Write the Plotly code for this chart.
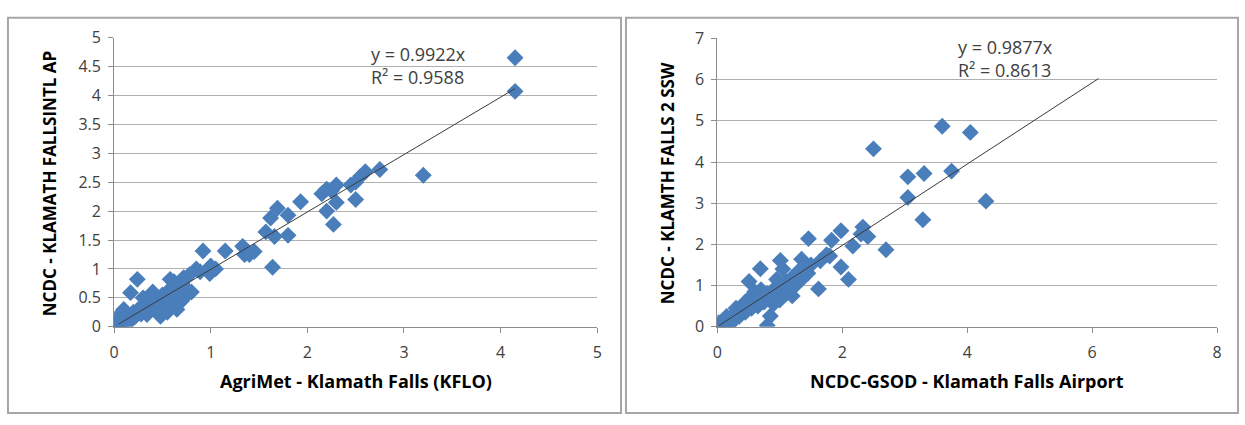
import plotly.graph_objects as go

# ---------------- data ----------------
left_x = [0.0, 0.02, 0.03, 0.05, 0.0, 0.08, 0.1, 0.12, 0.05, 0.15, 0.18, 0.2, 0.1, 0.22, 0.25, 0.28,
          0.3, 0.32, 0.35, 0.38, 0.4, 0.42, 0.45, 0.48, 0.5, 0.52, 0.55, 0.58, 0.6, 0.62, 0.65, 0.68,
          0.7, 0.72, 0.24, 0.17, 0.58, 0.62, 0.48, 0.34, 0.55, 0.6, 0.7, 0.75, 0.8, 0.78, 0.85, 0.89,
          0.99, 0.92, 1.0, 1.05, 1.15, 1.33, 1.35, 1.4, 1.45, 1.57, 1.66, 1.64, 1.8, 1.62, 1.69, 1.8,
          1.93, 2.2, 2.15, 2.2, 2.25, 2.3, 2.3, 2.27, 2.45, 2.5, 2.55, 2.6, 2.5, 2.75, 3.2, 4.15, 4.15,
          0.3, 0.65, 0.72, 0.4]
left_y = [0.0, 0.05, 0.0, 0.1, 0.08, 0.03, 0.15, 0.08, 0.2, 0.2, 0.12, 0.25, 0.3, 0.18, 0.3, 0.22,
          0.35, 0.28, 0.4, 0.3, 0.45, 0.35, 0.5, 0.42, 0.55, 0.48, 0.6, 0.52, 0.65, 0.55, 0.7, 0.6,
          0.75, 0.5, 0.82, 0.59, 0.82, 0.78, 0.18, 0.21, 0.25, 0.35, 0.45, 0.65, 0.6, 0.9, 1.0, 0.95,
          0.92, 1.31, 1.05, 1.0, 1.31, 1.39, 1.25, 1.25, 1.3, 1.64, 1.56, 1.03, 1.58, 1.88, 2.05, 1.93,
          2.16, 2.0, 2.3, 2.38, 2.35, 2.45, 2.15, 1.77, 2.45, 2.5, 2.6, 2.68, 2.2, 2.72, 2.62, 4.07, 4.65,
          0.5, 0.3, 0.85, 0.6]

right_x = [0.0, 0.05, 0.1, 0.02, 0.1, 0.15, 0.2, 0.15, 0.25, 0.3, 0.2, 0.35, 0.4, 0.3, 0.45, 0.5,
           0.45, 0.55, 0.6, 0.55, 0.65, 0.7, 0.6, 0.75, 0.8, 0.7, 0.85, 0.9, 0.95, 1.0, 0.95, 1.05,
           1.1, 1.0, 1.15, 1.2, 1.25, 1.3, 1.35, 1.4, 1.45, 1.5, 1.2, 0.9, 0.69, 1.01, 0.51, 1.35,
           1.62, 0.8, 0.85, 1.05, 1.1, 1.46, 1.83, 1.75, 1.65, 1.8, 1.98, 2.33, 2.41, 2.3, 2.17, 2.7,
           1.98, 2.1, 2.5, 3.05, 3.31, 3.05, 3.29, 3.6, 4.05, 3.75, 4.3]
right_y = [0.0, 0.05, 0.0, 0.1, 0.15, 0.1, 0.2, 0.25, 0.15, 0.3, 0.05, 0.25, 0.4, 0.45, 0.35, 0.5,
           0.6, 0.45, 0.6, 0.75, 0.5, 0.7, 0.85, 0.6, 0.8, 0.9, 0.7, 0.9, 0.75, 1.0, 1.15, 0.85,
           1.1, 0.65, 0.9, 1.2, 1.0, 1.35, 1.15, 1.45, 1.3, 1.5, 0.75, 0.55, 1.41, 1.61, 1.1, 1.64,
           0.92, 0.03, 0.26, 1.4, 0.8, 2.14, 2.1, 1.75, 1.6, 1.72, 2.33, 2.42, 2.19, 2.25, 1.96, 1.87,
           1.45, 1.15, 4.32, 3.64, 3.72, 3.14, 2.6, 4.87, 4.72, 3.78, 3.05]

left_slope, left_r2 = 0.9922, 0.9588
right_slope, right_r2 = 0.9877, 0.8613
left_trend_x = [0.05, 4.15]
right_trend_x = [0.03, 6.1]

left_xticks = [0, 1, 2, 3, 4, 5]
left_yticks = [0, 0.5, 1, 1.5, 2, 2.5, 3, 3.5, 4, 4.5, 5]
right_xticks = [0, 2, 4, 6, 8]
right_yticks = [0, 1, 2, 3, 4, 5, 6, 7]

left_xtitle = "AgriMet - Klamath Falls (KFLO)"
left_ytitle = "NCDC - KLAMATH FALLSINTL AP"
right_xtitle = "NCDC-GSOD - Klamath Falls Airport"
right_ytitle = "NCDC - KLAMTH FALLS 2 SSW"

# ---------------- figure ----------------
W, H = 1245, 425
BLUE = "#4A7EBB"
FONT = "Open Sans"
TXT = "#404040"

fig = go.Figure()

def px_x(p):
    return p / W

def px_y(p):
    return 1 - p / H

fig.add_trace(go.Scatter(x=left_x, y=left_y, mode="markers", xaxis="x", yaxis="y",
                         marker=dict(symbol="diamond", size=13, color=BLUE, line=dict(width=0)),
                         showlegend=False))
fig.add_trace(go.Scatter(x=left_trend_x, y=[left_slope * v for v in left_trend_x], mode="lines",
                         xaxis="x", yaxis="y", line=dict(color="#3a3a3a", width=1), showlegend=False))
fig.add_trace(go.Scatter(x=right_x, y=right_y, mode="markers", xaxis="x2", yaxis="y2",
                         marker=dict(symbol="diamond", size=13, color=BLUE, line=dict(width=0)),
                         showlegend=False))
fig.add_trace(go.Scatter(x=right_trend_x, y=[right_slope * v for v in right_trend_x], mode="lines",
                         xaxis="x2", yaxis="y2", line=dict(color="#3a3a3a", width=1), showlegend=False))

axis_common = dict(showline=True, linecolor="#8c8c8c", linewidth=1, ticks="outside", ticklen=5,
                   tickcolor="#8c8c8c", tickfont=dict(family=FONT, size=16, color=TXT), zeroline=False)

fig.update_layout(
    width=W, height=H, margin=dict(l=0, r=0, t=0, b=0),
    paper_bgcolor="white", plot_bgcolor="white",
    xaxis=dict(domain=[px_x(110), px_x(597)], range=[0, 5], tickvals=left_xticks, showgrid=False,
               anchor="y", ticklabelstandoff=6, **axis_common),
    yaxis=dict(domain=[px_y(333), px_y(28)], range=[0, 5], tickvals=left_yticks, showgrid=True,
               gridcolor="#b0b0b0", gridwidth=1, anchor="x", ticklabelstandoff=4, **axis_common),
    xaxis2=dict(domain=[px_x(718), px_x(1222)], range=[0, 8], tickvals=right_xticks, showgrid=False,
                anchor="y2", ticklabelstandoff=6, **axis_common),
    yaxis2=dict(domain=[px_y(333), px_y(29)], range=[0, 7], tickvals=right_yticks, showgrid=True,
                gridcolor="#b0b0b0", gridwidth=1, anchor="x2", ticklabelstandoff=4, **axis_common),
)

shapes = [
    dict(type="rect", xref="paper", yref="paper", x0=px_x(3), x1=px_x(621), y0=px_y(424), y1=px_y(7),
         line=dict(color="#a6a6a6", width=2)),
    dict(type="rect", xref="paper", yref="paper", x0=px_x(626), x1=px_x(1243), y0=px_y(424), y1=px_y(7),
         line=dict(color="#a6a6a6", width=2)),
]
fig.update_layout(shapes=shapes)

ann = []
def text(x, y, s, size=15, bold=False, angle=0, xanchor="center"):
    ann.append(dict(x=px_x(x), y=px_y(y), xref="paper", yref="paper", text=("<b>%s</b>" % s) if bold else s,
                    showarrow=False, textangle=angle, xanchor=xanchor, yanchor="middle", align="left",
                    font=dict(family=FONT, size=size, color="#000000" if bold else TXT)))

text(367, 58, "y = %.4fx<br>R² = %.4f" % (left_slope, left_r2), size=18, xanchor="left")
text(959, 50, "y = %.4fx<br>R² = %.4f" % (right_slope, right_r2), size=18, xanchor="left")
text(354, 390, left_xtitle, size=18, bold=True)
text(970, 390, right_xtitle, size=18, bold=True)
text(45, 182, left_ytitle, size=17, bold=True, angle=-90)
text(668, 182, right_ytitle, size=17, bold=True, angle=-90)
fig.update_layout(annotations=ann)

fig.write_html("out.html", config={"displayModeBar": False},
               post_script="document.body.style.margin='0';document.body.style.overflow='hidden';")
